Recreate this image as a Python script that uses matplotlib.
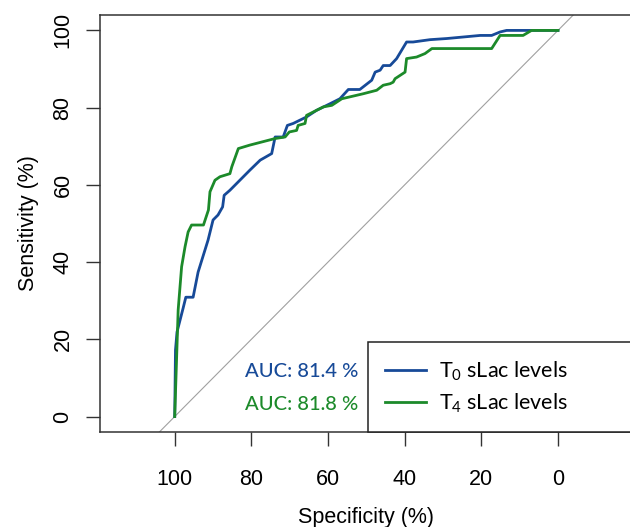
import matplotlib
matplotlib.use('Agg')
import matplotlib.pyplot as plt

plt.rcParams['font.family'] = ['Liberation Sans', 'DejaVu Sans']
plt.rcParams['mathtext.fontset'] = 'custom'
plt.rcParams['mathtext.rm'] = 'Lato'
plt.rcParams['mathtext.default'] = 'rm'

# ROC curve points (specificity %, sensitivity %)
spec_t0 = [100, 99.8, 99.4, 97.8, 97.1, 95.2, 93.9, 91.3, 90.0, 88.7, 87.5, 87.1,
           85.6, 80.4, 77.7, 74.7, 73.8, 71.7, 70.6, 69.1, 65.6, 63.0, 59.5, 56.9,
           54.7, 51.7, 48.6, 47.7, 46.4, 45.6, 43.8, 42.1, 39.5, 37.8, 33.4, 29.0,
           20.3, 17.3, 15.1, 13.4, 0]
sens_t0 = [0, 17.2, 21.9, 28.1, 30.9, 30.9, 37.4, 45.7, 50.9, 52.2, 54.3, 57.3,
           58.6, 63.8, 66.4, 68.1, 72.4, 72.4, 75.4, 75.9, 77.6, 79.3, 81.0, 82.3,
           84.7, 84.7, 87.1, 89.2, 89.7, 90.9, 90.9, 92.7, 97.0, 97.0, 97.6, 97.9,
           98.7, 98.7, 99.6, 100, 100]

spec_t4 = [100, 99.1, 98.2, 97.3, 96.5, 95.6, 92.5, 91.2, 90.8, 89.5, 88.2, 85.6,
           85.1, 83.4, 80.4, 73.8, 71.2, 70.1, 68.2, 67.8, 66.0, 65.6, 61.2, 59.0,
           56.4, 50.8, 47.3, 45.6, 43.8, 43.0, 42.5, 39.9, 39.5, 36.9, 34.7, 32.9,
           17.3, 15.1, 9.1, 6.9, 0]
sens_t4 = [0, 27.6, 38.8, 44.0, 47.8, 49.6, 49.6, 53.5, 58.2, 61.2, 62.1, 62.9,
           64.7, 69.4, 70.3, 72.0, 72.4, 73.7, 74.1, 75.4, 75.9, 78.0, 80.2, 80.6,
           82.3, 83.6, 84.5, 85.8, 86.2, 86.6, 87.5, 89.2, 92.7, 93.1, 94.0, 95.3,
           95.3, 98.7, 98.7, 100, 100]

auc_t0 = 81.4
auc_t4 = 81.8
labels = ['T$_0$ sLac levels', 'T$_4$ sLac levels']
blue = '#174a98'
green = '#1c8a2a'

fig = plt.figure(figsize=(6.3, 5.27), dpi=100)
ax = fig.add_axes([0.1587, 0.1803, 0.8456, 0.7913])

ax.axline((100, 0), (0, 100), color='#a0a0a0', lw=0.8, zorder=1)
ax.plot(spec_t0, sens_t0, color=blue, lw=2, label=labels[0], zorder=3)
ax.plot(spec_t4, sens_t4, color=green, lw=2, label=labels[1], zorder=4)

ax.set_xlim(119.5, -19.5)
ax.set_ylim(-4, 104)
ax.set_xticks([100, 80, 60, 40, 20, 0])
ax.set_yticks([0, 20, 40, 60, 80, 100])
for sp in ax.spines.values():
    sp.set_color('#333333')
    sp.set_linewidth(1.1)
ax.tick_params(axis='both', length=10, width=1, color='#333333', labelsize=15.5)
ax.tick_params(axis='x', pad=17)
ax.tick_params(axis='y', pad=9)
for lab in ax.get_yticklabels():
    lab.set_rotation(90)
    lab.set_va('center')

ax.set_xlabel('Specificity (%)', fontsize=15.5, labelpad=12)
ax.set_ylabel('Sensitivity (%)', fontsize=15.5, labelpad=10)

ax.text(52.2, 11.6, 'AUC: %.1f %%' % auc_t0, color=blue, fontsize=14.5,
        family='Lato', fontweight='medium', ha='right', va='center')
ax.text(52.2, 3.0, 'AUC: %.1f %%' % auc_t4, color=green, fontsize=14.5,
        family='Lato', fontweight='medium', ha='right', va='center')

leg = ax.legend(loc='lower left', bbox_to_anchor=(0.503, 0, 0.497, 0.218),
                mode='expand', borderaxespad=0, fancybox=False,
                edgecolor='#222222', framealpha=1, handlelength=1.9,
                handletextpad=0.6, borderpad=0.8, labelspacing=0.4,
                prop={'family': 'Lato', 'size': 15.5})
leg.get_frame().set_linewidth(1.1)

fig.savefig('out.png', dpi=100)
